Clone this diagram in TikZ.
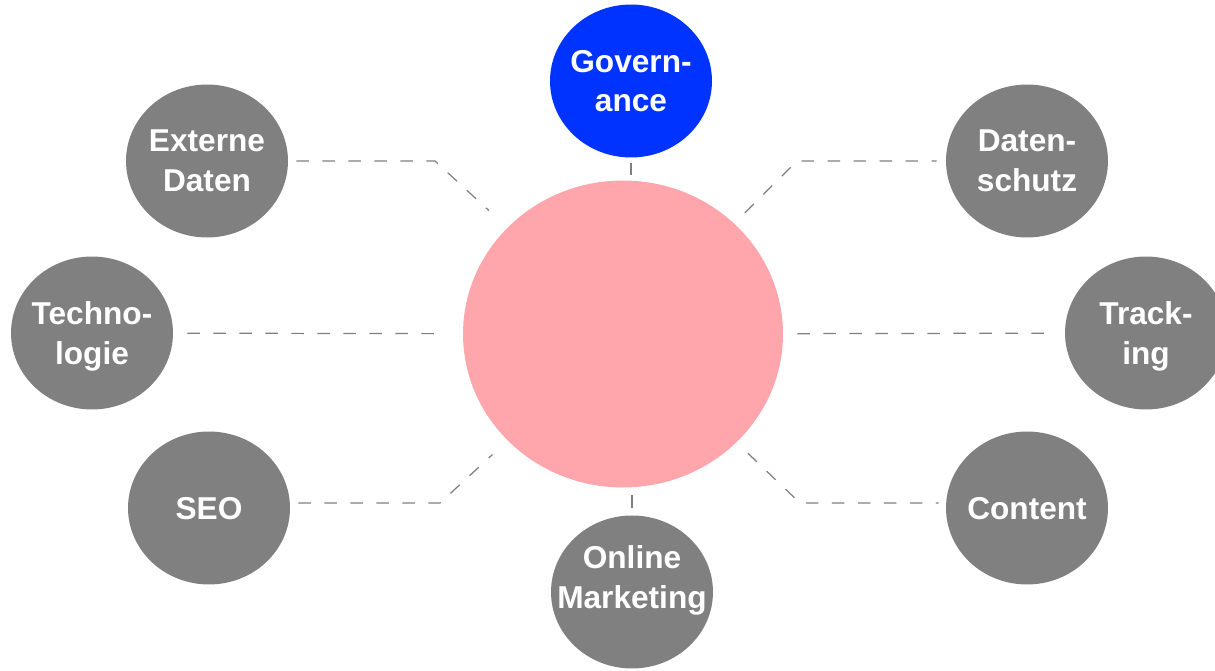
\documentclass[tikz,border=0pt]{standalone}
\usepackage{fontspec}
\setmainfont{Liberation Sans}
\usetikzlibrary{shapes.geometric}
\definecolor{bubblegrey}{HTML}{808080}
\definecolor{hubpink}{HTML}{FFA6AD}
\definecolor{govblue}{HTML}{0033FF}
\definecolor{linkgrey}{HTML}{7F7F7F}

\begin{document}
\begin{tikzpicture}[x=0.02cm, y=-0.02cm]
  % one unit = one pixel of the 1215 x 671 sheet, y runs downwards
  \useasboundingbox (0,0) rectangle (1215,671);
  \tikzset{
    bubbletext/.style={text=white, align=center, text depth=0pt,
                       font=\fontsize{18}{22.7}\selectfont\bfseries},
    % negative inner sep: the disc keeps its size, the words may reach its rim
    bubble/.style={ellipse, fill=bubblegrey, minimum width=3.24cm,
                   minimum height=3.06cm, inner sep=-0.8cm, bubbletext},
    hub/.style={ellipse, fill=hubpink, minimum width=6.4cm,
                minimum height=6.14cm, inner sep=0pt},
    link/.style={draw=linkgrey, line width=0.7pt,
                 dash pattern=on 0.25cm off 0.27cm}}

  % ========== the hub and its eight satellites ==========
  \node[hub] (hub) at (623,334) {};

  \node[bubble, fill=govblue] (gov) at (631,81)  {Govern-\\ance};
  \node[bubble] (ext) at (207,161)  {Externe\\Daten};
  \node[bubble] (dsc) at (1027,161) {Daten-\\schutz};
  \node[bubble] (tec) at (92,333)   {Techno-\\logie};
  \node[bubble] (trk) at (1146,333) {Track-\\ing};
  \node[bubble] (seo) at (209,508)  {SEO};
  \node[bubble] (cnt) at (1027,508) {Content};
  % the text of this one sits higher than the middle of its disc
  \node[bubble] (onl) at (632,592)  {};
  \node[bubbletext] (onltext) at (632,577) {Online\\Marketing};

  % ========== bends of the cranked links ==========
  \coordinate (extbend) at (435,161);
  \coordinate (dscbend) at (797,161);
  \coordinate (seobend) at (440,503);
  \coordinate (cntbend) at (800,503);

  % --- dashed links, each stopping short of both discs ---
  \draw[link, shorten <=0.16cm, shorten >=0.5cm]  (ext) -- (extbend) -- (hub);
  \draw[link, shorten <=0.3cm, shorten >=0.18cm]  (hub) -- (dscbend) -- (dsc);
  \draw[link, shorten <=0.16cm, shorten >=0.41cm]
    (seo.east |- seobend) -- (seobend) -- (hub);
  \draw[link, shorten <=0.31cm, shorten >=0.14cm]
    (hub) -- (cntbend) -- (cnt.west |- cntbend);
  \draw[link, shorten <=0.28cm, shorten >=0.34cm] (tec) -- (hub);
  \draw[link, shorten <=0.28cm, shorten >=0.28cm] (hub) -- (trk);

  % the two short upright stubs
  \draw[link, shorten <=0.1cm, shorten >=0.07cm]  (gov) -- (gov |- hub.north);
  \draw[link, shorten <=0.15cm, shorten >=0.12cm] (onl |- hub.south) -- (onl);
\end{tikzpicture}
\end{document}
